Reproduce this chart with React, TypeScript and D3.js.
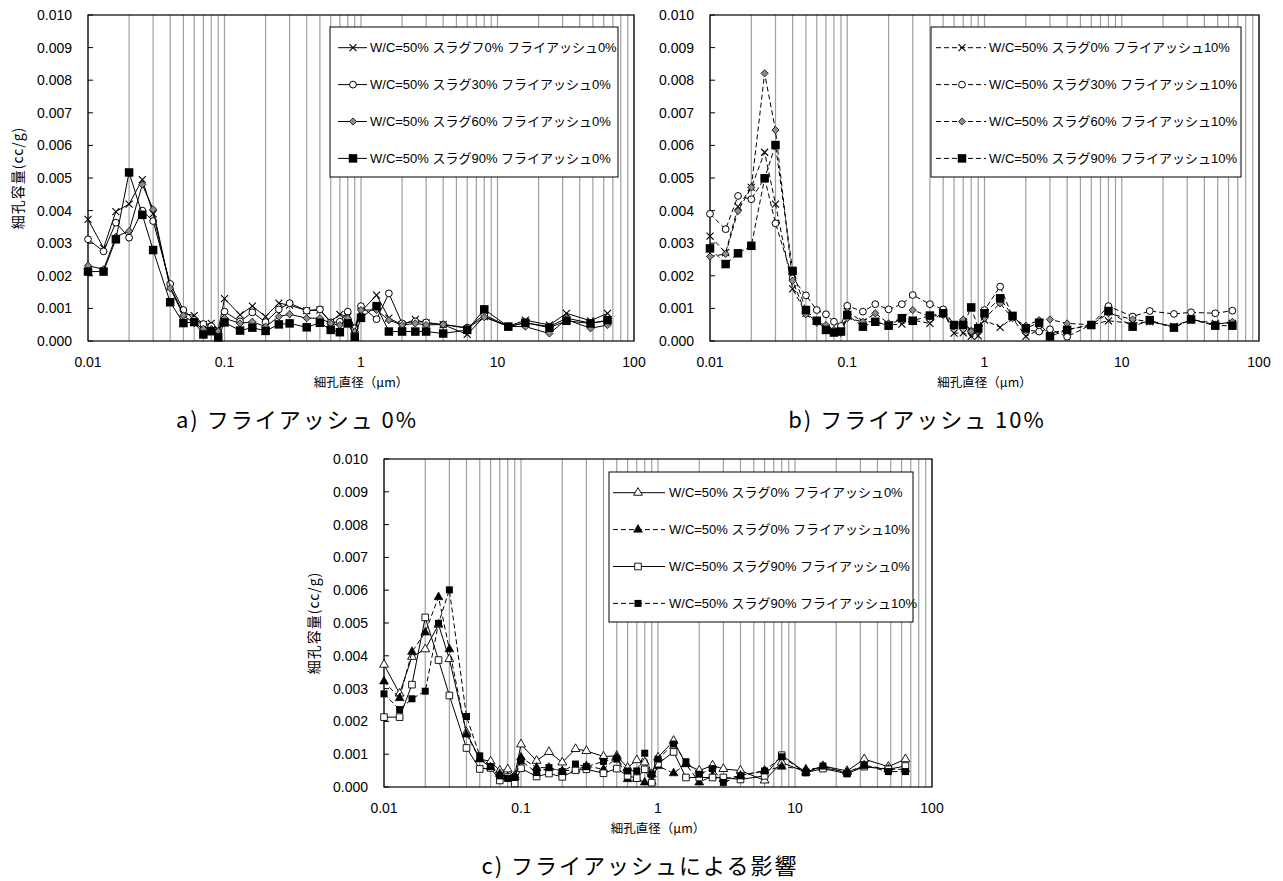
import React from 'react';
import * as d3 from 'd3';

// pore diameter bins (µm), shared by every series
const poreDiameter = [
  0.01, 0.013, 0.016, 0.02, 0.025, 0.03, 0.04, 0.05, 0.06, 0.07, 0.08, 0.09,
  0.1, 0.13, 0.16, 0.2, 0.25, 0.3, 0.4, 0.5, 0.6, 0.7, 0.8, 0.9,
  1, 1.3, 1.6, 2, 2.5, 3, 4, 6, 8, 12, 16, 24, 32, 48, 64,
];

// pore volume, in 0.001 cc/g
const slag0Fa0 = [3.73, 2.85, 3.97, 4.2, 4.95, 3.9, 1.66, 0.85, 0.78, 0.5, 0.54, 0.35, 1.3, 0.8, 1.07, 0.75, 1.16, 1.1, 0.93, 0.95, 0.59, 0.82, 0.75, 0.39, 0.9, 1.41, 0.7, 0.5, 0.66, 0.55, 0.5, 0.2, 0.75, 0.45, 0.64, 0.49, 0.85, 0.62, 0.85];
const slag30Fa0 = [3.12, 2.75, 3.63, 3.17, 4.0, 3.68, 1.75, 0.95, 0.65, 0.52, 0.45, 0.29, 0.9, 0.6, 0.88, 0.58, 0.97, 1.16, 0.93, 0.97, 0.57, 0.59, 0.9, 0.39, 1.07, 0.67, 1.46, 0.54, 0.6, 0.57, 0.5, 0.41, 0.8, 0.45, 0.56, 0.44, 0.7, 0.55, 0.62];
const slag60Fa0 = [2.31, 2.2, 3.2, 3.37, 4.8, 4.04, 1.62, 0.78, 0.55, 0.37, 0.37, 0.3, 0.7, 0.54, 0.59, 0.44, 0.75, 0.82, 0.7, 0.7, 0.54, 0.49, 0.7, 0.29, 0.95, 0.95, 0.64, 0.49, 0.54, 0.49, 0.51, 0.39, 0.73, 0.45, 0.44, 0.23, 0.66, 0.39, 0.49];
const slag90Fa0 = [2.13, 2.13, 3.12, 5.17, 3.87, 2.79, 1.19, 0.55, 0.58, 0.2, 0.3, 0.11, 0.57, 0.32, 0.41, 0.31, 0.51, 0.54, 0.42, 0.56, 0.34, 0.27, 0.54, 0.13, 0.71, 1.07, 0.29, 0.29, 0.29, 0.29, 0.23, 0.34, 0.97, 0.44, 0.56, 0.41, 0.62, 0.54, 0.64];

const slag0Fa10 = [3.22, 2.71, 4.12, 4.71, 5.79, 4.2, 1.6, 0.85, 0.6, 0.4, 0.3, 0.3, 0.9, 0.59, 0.59, 0.49, 0.52, 0.64, 0.54, 0.9, 0.24, 0.25, 0.14, 0.16, 0.64, 0.42, 0.7, 0.14, 0.34, 0.24, 0.35, 0.5, 0.62, 0.54, 0.59, 0.45, 0.66, 0.54, 0.54];
const slag30Fa10 = [3.9, 3.43, 4.45, 4.35, 5.0, 3.61, 1.92, 1.4, 0.95, 0.82, 0.59, 0.46, 1.08, 0.9, 1.13, 0.97, 1.13, 1.41, 1.13, 0.97, 0.5, 0.6, 0.3, 0.35, 0.95, 1.67, 0.75, 0.34, 0.29, 0.36, 0.13, 0.5, 1.07, 0.75, 0.92, 0.83, 0.88, 0.85, 0.93];
const slag60Fa10 = [2.59, 2.67, 3.99, 4.71, 8.21, 6.47, 1.85, 0.82, 0.56, 0.49, 0.34, 0.25, 0.7, 0.59, 0.85, 0.54, 0.7, 0.95, 0.75, 0.8, 0.45, 0.66, 0.29, 0.34, 0.7, 1.15, 0.7, 0.47, 0.64, 0.66, 0.54, 0.5, 0.85, 0.66, 0.6, 0.42, 0.66, 0.5, 0.59];
const slag90Fa10 = [2.84, 2.36, 2.69, 2.92, 4.99, 6.01, 2.15, 0.95, 0.62, 0.34, 0.26, 0.29, 0.8, 0.44, 0.59, 0.47, 0.7, 0.62, 0.78, 0.85, 0.49, 0.49, 1.03, 0.39, 0.85, 1.31, 0.77, 0.39, 0.56, 0.14, 0.34, 0.49, 0.92, 0.44, 0.64, 0.41, 0.66, 0.47, 0.47];

const xTickValues = [0.01, 0.1, 1, 10, 100];
const xTickLabels = ['0.01', '0.1', '1', '10', '100'];
const yTickLabels = ['0.000', '0.001', '0.002', '0.003', '0.004', '0.005', '0.006', '0.007', '0.008', '0.009', '0.010'];

const labelsA = [
  'W/C=50% スラグフ0% フライアッシュ0%',
  'W/C=50% スラグ30% フライアッシュ0%',
  'W/C=50% スラグ60% フライアッシュ0%',
  'W/C=50% スラグ90% フライアッシュ0%',
];
const labelsB = [
  'W/C=50% スラグ0% フライアッシュ10%',
  'W/C=50% スラグ30% フライアッシュ10%',
  'W/C=50% スラグ60% フライアッシュ10%',
  'W/C=50% スラグ90% フライアッシュ10%',
];
const labelsC = [
  'W/C=50% スラグ0% フライアッシュ0%',
  'W/C=50% スラグ0% フライアッシュ10%',
  'W/C=50% スラグ90% フライアッシュ0%',
  'W/C=50% スラグ90% フライアッシュ10%',
];

const sans = '"Liberation Sans", Arial, "Noto Sans CJK JP", sans-serif';
const jp = '"Noto Sans CJK JP", sans-serif';

type MarkerKind = 'times' | 'circle' | 'diamond' | 'square' | 'triOpen' | 'triFill' | 'sqOpen' | 'sqSmall';

const sym = (type: d3.SymbolType, size: number) => d3.symbol().type(type).size(size)() as string;

function Marker({ kind, x, y }: { kind: MarkerKind; x: number; y: number }) {
  const t = `translate(${x},${y})`;
  switch (kind) {
    case 'times':
      return <path transform={t} d="M-3.5,-3.5L3.5,3.5M-3.5,3.5L3.5,-3.5" stroke="#000" strokeWidth={1.1} fill="none" />;
    case 'circle':
      return <path transform={t} d={sym(d3.symbolCircle, Math.PI * 3.4 * 3.4)} fill="#fff" stroke="#000" strokeWidth={1} />;
    case 'diamond':
      return <path transform={t} d="M0,-3.6L3.6,0L0,3.6L-3.6,0Z" fill="#8c8c8c" stroke="#000" strokeWidth={0.8} />;
    case 'square':
      return <path transform={t} d={sym(d3.symbolSquare, 8.5 * 8.5)} fill="#000" />;
    case 'triOpen':
      return <path transform={t} d={sym(d3.symbolTriangle, 34)} fill="#fff" stroke="#000" strokeWidth={0.9} />;
    case 'triFill':
      return <path transform={t} d={sym(d3.symbolTriangle, 34)} fill="#000" stroke="#000" strokeWidth={0.6} />;
    case 'sqOpen':
      return <path transform={t} d={sym(d3.symbolSquare, 44)} fill="#fff" stroke="#000" strokeWidth={0.9} />;
    case 'sqSmall':
      return <path transform={t} d={sym(d3.symbolSquare, 49)} fill="#000" />;
  }
}

type Series = { label: string; values: number[]; marker: MarkerKind; dashed: boolean };
type Frame = { left: number; right: number; top: number; bottom: number };
type Legend = { x: number; y: number; w: number; h: number; line0: number; line1: number; mark: number; text: number };

function Panel({ frame, series, legend, yTitle }: { frame: Frame; series: Series[]; legend: Legend; yTitle: boolean }) {
  const x = d3.scaleLog().domain([0.01, 100]).range([frame.left, frame.right]);
  const y = d3.scaleLinear().domain([0, 10]).range([frame.bottom, frame.top]);
  const grid = x.ticks();
  const line = d3.line<number>().x((_, i) => x(poreDiameter[i])).y((d) => y(d));
  const midY = (frame.top + frame.bottom) / 2;
  const midX = (frame.left + frame.right) / 2;

  return (
    <g>
      {grid.map((g) => (
        <line key={g} x1={x(g)} x2={x(g)} y1={frame.top} y2={frame.bottom} stroke="#a0a0a0" strokeWidth={1.2} />
      ))}
      <rect x={frame.left} y={frame.top} width={frame.right - frame.left} height={frame.bottom - frame.top} fill="none" stroke="#000" strokeWidth={1.2} />
      {y.ticks(10).map((v, i) => (
        <g key={v}>
          <line x1={frame.left} x2={frame.left + 5} y1={y(v)} y2={y(v)} stroke="#000" strokeWidth={1} />
          <text x={frame.left - 16} y={y(v)} dy="0.35em" textAnchor="end" fontSize={14} fontFamily={sans}>
            {yTickLabels[i]}
          </text>
        </g>
      ))}
      {xTickValues.map((v, i) => (
        <text key={v} x={x(v)} y={frame.bottom + 26} textAnchor="middle" fontSize={14} fontFamily={sans}>
          {xTickLabels[i]}
        </text>
      ))}
      <text x={midX} y={frame.bottom + 46} textAnchor="middle" fontSize={12.5} fontFamily={jp}>
        細孔直径（μm）
      </text>
      {yTitle && (
        <text transform={`translate(${frame.left - 70},${midY}) rotate(-90)`} textAnchor="middle" dy="0.35em" fontSize={14} letterSpacing={1} fontFamily={jp}>
          細孔容量(cc/g)
        </text>
      )}

      {series.map((s) => (
        <g key={s.label}>
          <path d={line(s.values) ?? ''} fill="none" stroke="#000" strokeWidth={1} strokeDasharray={s.dashed ? '5,3' : undefined} />
          {s.values.map((v, i) => (
            <Marker key={i} kind={s.marker} x={x(poreDiameter[i])} y={y(v)} />
          ))}
        </g>
      ))}

      <rect x={legend.x} y={legend.y} width={legend.w} height={legend.h} fill="#fff" stroke="#000" strokeWidth={1} />
      {series.map((s, i) => {
        const ry = legend.y + 20.7 + i * 36.9;
        return (
          <g key={s.label}>
            <line x1={legend.x + legend.line0} x2={legend.x + legend.line1} y1={ry} y2={ry} stroke="#000" strokeWidth={1} strokeDasharray={s.dashed ? '5,3' : undefined} />
            <Marker kind={s.marker} x={legend.x + legend.mark} y={ry} />
            <text x={legend.x + legend.text} y={ry} dy="0.35em" fontSize={13} fontFamily={sans}>
              {s.label}
            </text>
          </g>
        );
      })}
    </g>
  );
}

export default function App() {
  const seriesA: Series[] = [
    { label: labelsA[0], values: slag0Fa0, marker: 'times', dashed: false },
    { label: labelsA[1], values: slag30Fa0, marker: 'circle', dashed: false },
    { label: labelsA[2], values: slag60Fa0, marker: 'diamond', dashed: false },
    { label: labelsA[3], values: slag90Fa0, marker: 'square', dashed: false },
  ];
  const seriesB: Series[] = [
    { label: labelsB[0], values: slag0Fa10, marker: 'times', dashed: true },
    { label: labelsB[1], values: slag30Fa10, marker: 'circle', dashed: true },
    { label: labelsB[2], values: slag60Fa10, marker: 'diamond', dashed: true },
    { label: labelsB[3], values: slag90Fa10, marker: 'square', dashed: true },
  ];
  const seriesC: Series[] = [
    { label: labelsC[0], values: slag0Fa0, marker: 'triOpen', dashed: false },
    { label: labelsC[1], values: slag0Fa10, marker: 'triFill', dashed: true },
    { label: labelsC[2], values: slag90Fa0, marker: 'sqOpen', dashed: false },
    { label: labelsC[3], values: slag90Fa10, marker: 'sqSmall', dashed: true },
  ];

  return (
    <svg width={1283} height={881} style={{ position: 'absolute', left: 0, top: 0, background: '#fff' }}>
      <Panel
        frame={{ left: 88, right: 634, top: 15, bottom: 341 }}
        series={seriesA}
        legend={{ x: 330, y: 27, w: 288, h: 150, line0: 8, line1: 37, mark: 23, text: 40 }}
        yTitle
      />
      <Panel
        frame={{ left: 710, right: 1259, top: 15, bottom: 341 }}
        series={seriesB}
        legend={{ x: 931, y: 27, w: 310, h: 150, line0: 5, line1: 55, mark: 31, text: 58 }}
        yTitle={false}
      />
      <Panel
        frame={{ left: 384, right: 932, top: 459, bottom: 787 }}
        series={seriesC}
        legend={{ x: 609, y: 472, w: 304, h: 150, line0: 4, line1: 56, mark: 29, text: 60 }}
        yTitle
      />
      <text x={297} y={428} textAnchor="middle" fontSize={22} letterSpacing={2} fontFamily={jp}>
        a) フライアッシュ 0%
      </text>
      <text x={917} y={428} textAnchor="middle" fontSize={22} letterSpacing={2} fontFamily={jp}>
        b) フライアッシュ 10%
      </text>
      <text x={640} y={874} textAnchor="middle" fontSize={22} letterSpacing={2} fontFamily={jp}>
        c) フライアッシュによる影響
      </text>
    </svg>
  );
}
